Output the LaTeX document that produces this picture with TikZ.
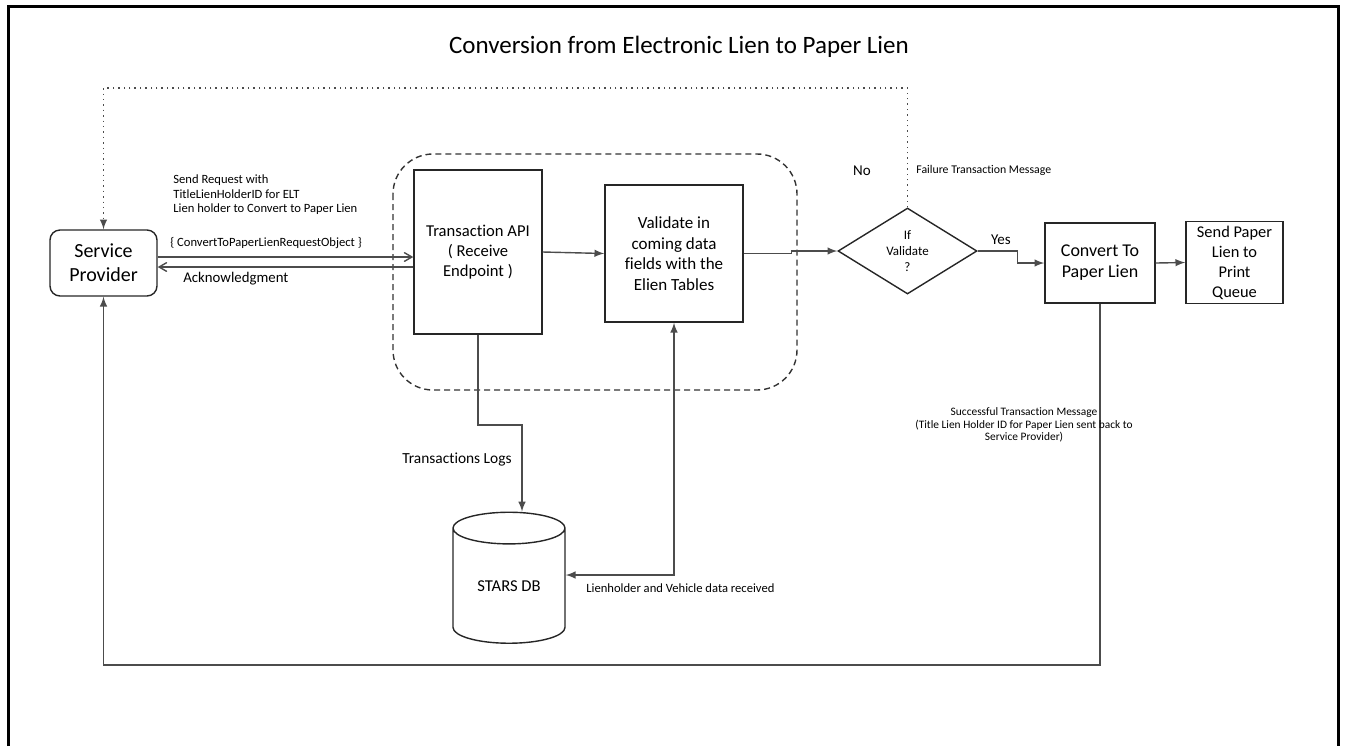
\documentclass[tikz,border=0pt]{standalone}
\usepackage{fontspec}
\setmainfont{Carlito}[Ligatures=NoCommon]
\usepackage{tikz}
\usetikzlibrary{arrows}
\usetikzlibrary{shapes.geometric}
\usetikzlibrary{calc}
\tikzset{
 box/.style={draw=black!85, line width=0.7pt, rectangle, align=center, inner sep=2pt},
 conn/.style={draw=black!70, line width=0.7pt},
 arr/.style={conn, -latex},
 twoarr/.style={conn, latex-latex},
 oarr/.style={conn, ->, >=angle 60},
 lbl/.style={inner sep=0pt, align=left},
}
\newcommand{\fsz}[2]{\fontsize{#1}{#2}\selectfont}

\begin{document}
\begin{tikzpicture}[x=0.5pt, y=-0.5pt]
\useasboundingbox (0,0) rectangle (1345,746);
\draw[line width=1.5pt] (8,746) -- (8,6) -- (1338,6) -- (1338,746);
\node (title) at (679,47) {\fsz{12.5}{15}Conversion from Electronic Lien to Paper Lien};

\draw[black!80, line width=0.7pt, dash pattern=on 3pt off 2pt, rounded corners=20pt] (393,154) rectangle (797,390);

\node[box, rounded corners=5pt, minimum width=53.5pt, minimum height=33pt, font=\fsz{10}{12}] (sp) at (103.5,263) {Service\\Provider};
\node[box, minimum width=64pt, minimum height=82pt, font=\fsz{8.3}{10}] (api) at (478,252) {Transaction API\\( Receive\\Endpoint )};
\node[box, minimum width=69pt, minimum height=68.5pt, font=\fsz{8.5}{10.3}] (val) at (674,253.5) {Validate in\\coming data\\fields with the\\Elien Tables};
\node[box, shape=diamond, aspect=1.6, inner sep=0pt, minimum width=69.5pt, minimum height=43pt, font=\fsz{6.5}{7.8}] (dec) at (907.5,251) {If\\Validate\\?};
\node[box, minimum width=55pt, minimum height=40pt, font=\fsz{9}{10.5}] (conv) at (1100,263) {Convert To\\Paper Lien};
\node[box, minimum width=48.5pt, minimum height=40.5pt, font=\fsz{8.2}{10}] (send) at (1234.5,262.5) {Send Paper\\Lien to\\Print\\Queue};
\node[box, shape=cylinder, shape border rotate=90, aspect=0.5, inner sep=0pt, minimum width=56pt, minimum height=65.5pt, font=\fsz{8.3}{10}] (db) at (509,586) {STARS DB};

\coordinate (req) at (0,257);
\coordinate (ack) at (0,267);
\coordinate (toprow) at (0,88);
\coordinate (botrow) at (0,665);
\coordinate (datarow) at (0,575);
\coordinate (logs) at (522,425);

\draw[oarr] (sp.east |- req) -- (api.west |- req);
\draw[oarr] (api.west |- ack) -- (sp.east |- ack);
\draw[arr] (api.east) -- (val.west);
\draw[arr] (val.east) -- ++(48,0) |- (dec.west);
\draw[arr] (dec.east) -- ++(40,0) |- (conv.west);
\draw[arr] (conv.east) -- (send.west);
\draw[conn, -latex, dotted] (dec.north) |- (sp.north |- toprow) -- (sp.north);
\draw[arr] (conv.south) |- (sp.south |- botrow) -- (sp.south);
\draw[arr] (api.south) |- (logs) -- (logs |- db.north);
\draw[twoarr] (db.east |- datarow) -| (val.south);

\node[lbl, anchor=west, font=\fsz{6.3}{7.3}] (sendreq) at (173,195) {Send Request with\\TitleLienHolderID for ELT\\Lien holder to Convert to Paper Lien};
\node[lbl, anchor=west, font=\fsz{6.3}{7.3}] (reqobj) at (170,243) {\{ ConvertToPaperLienRequestObject \}};
\node[lbl, anchor=west, font=\fsz{7.4}{9}] (acklbl) at (183,279) {Acknowledgment};
\node[lbl, font=\fsz{7.5}{9}] (nolbl) at (862,171) {No};
\node[lbl, anchor=west, font=\fsz{5.9}{7}] (faillbl) at (916,170) {Failure Transaction Message};
\node[lbl, font=\fsz{7.5}{9}] (yeslbl) at (1001,240) {Yes};
\node[lbl, font=\fsz{7.7}{9}] (logslbl) at (457,460) {Transactions Logs};
\node[lbl, anchor=west, font=\fsz{6.3}{7.3}] (datalbl) at (586,588) {Lienholder and Vehicle data received};
\node[lbl, align=center, font=\fsz{5.7}{6.2}] (oklbl) at (1024,425) {Successful Transaction Message\\(Title Lien Holder ID for Paper Lien sent back to\\Service Provider)};
\end{tikzpicture}
\end{document}
